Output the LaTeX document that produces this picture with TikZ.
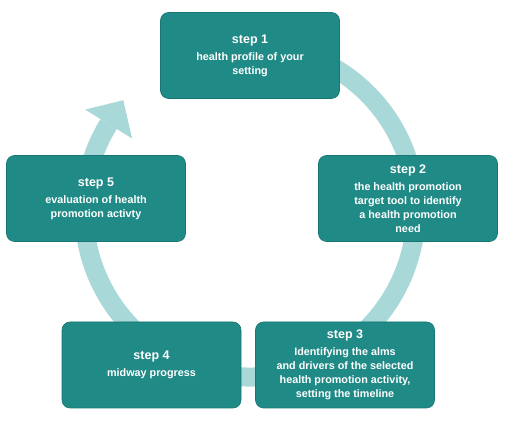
\documentclass[tikz,border=0pt]{standalone}
\usepackage{fontspec}
\setmainfont{Liberation Sans}
\usetikzlibrary{calc}
\definecolor{boxteal}{RGB}{31,138,134}
\definecolor{boxedge}{RGB}{24,118,115}
\definecolor{ringteal}{RGB}{168,216,216}
\tikzset{
  stepbox/.style={draw=boxedge, line width=0.6pt, fill=boxteal, rounded corners=8pt,
    minimum width=179pt, minimum height=86pt, inner sep=0pt, align=center,
    text=white, font=\bfseries\fontsize{10.8}{14}\selectfont},
  ring/.style={draw=ringteal, line width=19pt},
}
\newcommand{\steptitle}[1]{{\fontsize{12.5}{14}\selectfont #1}\\[3pt]}
\begin{document}
\begin{tikzpicture}[x=1pt,y=1pt]
\useasboundingbox (0,0) rectangle (512,431);
\coordinate (c) at (250,220);
% ring
\draw[ring] ($(c)+(70:166)$) arc[start angle=70, end angle=-211.6, radius=166];
\coordinate (b1) at ($(c)+(148.4:193.5)$);
\coordinate (b2) at ($(c)+(148.4:138.5)$);
\coordinate (bm) at ($(c)+(148.4:166)$);
\coordinate (tip) at ($(bm)+(58.4:28)$);
\fill[ringteal] (b1) -- (tip) -- (b2) -- cycle;
% boxes
\node[stepbox] (s1) at (250,375.5) {\steptitle{step 1}health profile of your\\setting};
\node[stepbox] (s2) at (408,232.5) {\steptitle{step 2}the health promotion\\target tool to identify\\a health promotion\\need};
\node[stepbox] (s3) at (345,66) {\steptitle{step 3}Identifying the alms\\and drivers of the selected\\health promotion activity,\\setting the timeline};
\node[stepbox] (s4) at (151.5,66) {\steptitle{step 4}midway progress};
\node[stepbox] (s5) at (96,232.5) {\steptitle{step 5}evaluation of health\\promotion activty};
\end{tikzpicture}
\end{document}
